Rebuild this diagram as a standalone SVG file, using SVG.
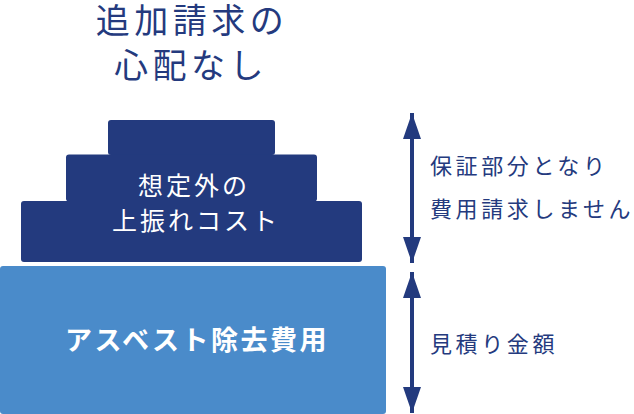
<svg xmlns="http://www.w3.org/2000/svg" width="634" height="414" viewBox="0 0 634 414">
<defs>
<style>
.navy{fill:#233a7e}
.light{fill:#4a8bca}
.t{font-family:"Noto Sans CJK JP","Noto Sans",sans-serif}
.title{font-size:34px;fill:#243a7e;letter-spacing:4.5px;text-anchor:middle}
.inner{font-size:25px;fill:#ffffff;letter-spacing:3px;text-anchor:middle}
.main{font-size:27px;fill:#ffffff;font-weight:bold;letter-spacing:2.5px;text-anchor:middle}
.side{font-size:22px;fill:#243a7e;letter-spacing:3.6px}
.line{stroke:#233a7e;stroke-width:4;fill:none}
</style>
<marker id="ah" viewBox="0 0 26 18" refX="26" refY="9" markerWidth="26" markerHeight="18" markerUnits="userSpaceOnUse" orient="auto-start-reverse">
<path d="M0,0 L26,9 L0,18 Z" fill="#233a7e"/>
</marker>
</defs>
<g id="title">
<text class="t title" x="192" y="33">追加請求の</text>
<text class="t title" x="191" y="78">心配なし</text>
</g>
<g id="tier-top">
<rect class="navy" x="108" y="120" width="167" height="35" rx="3"/>
</g>
<g id="tier-middle">
<rect class="navy" x="66" y="154.5" width="251" height="47" rx="3"/>
</g>
<g id="tier-bottom">
<rect class="navy" x="21" y="201" width="341" height="61" rx="3"/>
<text class="t inner" x="194" y="195">想定外の</text>
<text class="t inner" x="196" y="230">上振れコスト</text>
</g>
<g id="base">
<rect class="light" x="0" y="266" width="386" height="148" rx="3"/>
<text class="t main" x="197" y="350">アスベスト除去費用</text>
</g>
<g id="connectors">
<line class="line" x1="412" y1="113" x2="412" y2="263" marker-start="url(#ah)" marker-end="url(#ah)"/>
<line class="line" x1="412" y1="272" x2="412" y2="413" marker-start="url(#ah)" marker-end="url(#ah)"/>
</g>
<g id="label-guarantee">
<text class="t side" x="430" y="174">保証部分となり</text>
<text class="t side" x="430" y="217">費用請求しません</text>
</g>
<g id="label-estimate">
<text class="t side" x="430" y="352">見積り金額</text>
</g>
</svg>
